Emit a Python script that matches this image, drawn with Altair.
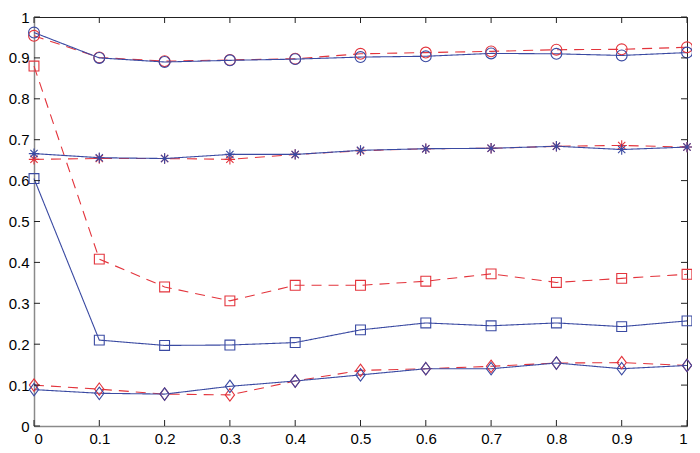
import altair as alt
import pandas as pd

# ---- data ----
x_vals = [0.0, 0.1, 0.2, 0.3, 0.4, 0.5, 0.6, 0.7, 0.8, 0.9, 1.0]

circle_blue = [0.962, 0.900, 0.890, 0.894, 0.897, 0.902, 0.904, 0.911, 0.910, 0.906, 0.913]
circle_red = [0.954, 0.901, 0.892, 0.895, 0.898, 0.910, 0.913, 0.916, 0.920, 0.921, 0.926]
star_blue = [0.666, 0.656, 0.654, 0.664, 0.664, 0.674, 0.678, 0.679, 0.684, 0.676, 0.682]
star_red = [0.652, 0.654, 0.654, 0.652, 0.664, 0.673, 0.678, 0.679, 0.684, 0.686, 0.682]
square_blue = [0.605, 0.210, 0.197, 0.198, 0.204, 0.235, 0.252, 0.245, 0.252, 0.243, 0.257]
square_red = [0.880, 0.408, 0.340, 0.306, 0.344, 0.344, 0.354, 0.372, 0.351, 0.361, 0.371]
diamond_blue = [0.089, 0.080, 0.078, 0.097, 0.110, 0.125, 0.140, 0.140, 0.154, 0.140, 0.148]
diamond_red = [0.100, 0.090, 0.078, 0.076, 0.110, 0.136, 0.140, 0.146, 0.154, 0.155, 0.148]

x_ticks = [0.0, 0.1, 0.2, 0.3, 0.4, 0.5, 0.6, 0.7, 0.8, 0.9, 1.0]
y_ticks = [0.0, 0.1, 0.2, 0.3, 0.4, 0.5, 0.6, 0.7, 0.8, 0.9, 1.0]

series = [
    ("circle_red", "red", "circle", circle_red),
    ("star_red", "red", "star", star_red),
    ("square_red", "red", "square", square_red),
    ("diamond_red", "red", "diamond", diamond_red),
    ("circle_blue", "blue", "circle", circle_blue),
    ("star_blue", "blue", "star", star_blue),
    ("square_blue", "blue", "square", square_blue),
    ("diamond_blue", "blue", "diamond", diamond_blue),
]

rows = []
for name, grp, marker, vals in series:
    for xv, yv in zip(x_vals, vals):
        rows.append({"series": name, "group": grp, "marker": marker, "x": xv, "y": yv})
df = pd.DataFrame(rows)
xt_df = pd.DataFrame({"v": x_ticks})
yt_df = pd.DataFrame({"v": y_ticks})

# ---- styling ----
BLUE = "#3a4aa2"
RED = "#e3343c"
FONT = "Liberation Sans"
W, H = 653, 409
TICK = 6

xs = alt.Scale(domain=[0, 1], nice=False, zero=False)
ys = alt.Scale(domain=[0, 1], nice=False, zero=False)

color = alt.Color("group:N", scale=alt.Scale(domain=["blue", "red"], range=[BLUE, RED]), legend=None)

x_axis = alt.Axis(values=x_ticks, format="~g", grid=False, ticks=False, domain=True,
                  domainColor="#8a8a8a", domainWidth=1.5,
                  labelPadding=5, labelFontSize=15, labelFont=FONT, labelColor="black",
                  title=None)
y_axis = alt.Axis(values=y_ticks, format="~g", grid=False, ticks=False, domain=True,
                  domainColor="#8a8a8a", domainWidth=1.5,
                  labelPadding=5, labelFontSize=15, labelFont=FONT, labelColor="black",
                  title=None)

lines = alt.Chart(df).mark_line(strokeWidth=1.1).encode(
    x=alt.X("x:Q", scale=xs, axis=x_axis),
    y=alt.Y("y:Q", scale=ys, axis=y_axis),
    color=color,
    strokeDash=alt.StrokeDash("group:N",
                              scale=alt.Scale(domain=["blue", "red"], range=[[1, 0], [10, 7]]),
                              legend=None),
    detail="series:N",
    order="x:Q",
)

ASTERISK = "M-1,0L1,0M0,-1L0,1M-0.7,-0.7L0.7,0.7M-0.7,0.7L0.7,-0.7"
DIAMOND = "M0,-1.34L1,0L0,1.34L-1,0Z"

points = alt.Chart(df).mark_point(filled=False, strokeWidth=1.1, opacity=1).encode(
    x=alt.X("x:Q", scale=xs),
    y=alt.Y("y:Q", scale=ys),
    color=color,
    shape=alt.Shape("marker:N",
                    scale=alt.Scale(domain=["circle", "star", "square", "diamond"],
                                    range=["circle", ASTERISK, "square", DIAMOND]),
                    legend=None),
    size=alt.Size("marker:N",
                  scale=alt.Scale(domain=["circle", "star", "square", "diamond"],
                                  range=[118, 86, 74, 96]),
                  legend=None),
)

tick_color = "#222222"
bottom_ticks = alt.Chart(xt_df).mark_rule(color=tick_color, strokeWidth=1).encode(
    x=alt.X("v:Q", scale=xs), y=alt.value(H), y2=alt.value(H - TICK))
top_ticks = alt.Chart(xt_df).mark_rule(color=tick_color, strokeWidth=1).encode(
    x=alt.X("v:Q", scale=xs), y=alt.value(0), y2=alt.value(TICK))
left_ticks = alt.Chart(yt_df).mark_rule(color=tick_color, strokeWidth=1).encode(
    y=alt.Y("v:Q", scale=ys), x=alt.value(0), x2=alt.value(TICK))
right_ticks = alt.Chart(yt_df).mark_rule(color=tick_color, strokeWidth=1).encode(
    y=alt.Y("v:Q", scale=ys), x=alt.value(W), x2=alt.value(W - TICK))

chart = alt.layer(lines, points, bottom_ticks, top_ticks, left_ticks, right_ticks).properties(
    width=W, height=H,
    autosize=alt.AutoSizeParams(type="none"),
    padding={"left": 26, "top": 9, "right": 5, "bottom": 23},
    background="white",
).configure_view(stroke="#222222", strokeWidth=1)

chart.save("out.html", embed_options={"renderer": "svg", "actions": False})
